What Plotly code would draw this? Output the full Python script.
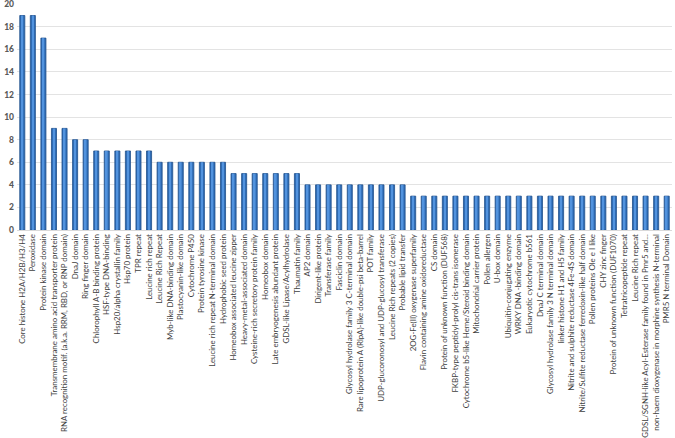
import plotly.graph_objects as go

# --- Datos: dominios proteicos y número de genes ---
dominios = [
    "Core histone H2A/H2B/H3/H4", "Peroxidase", "Protein kinase domain",
    "Transmembrane amino acid transporter protein",
    "RNA recognition motif. (a.k.a. RRM, RBD, or RNP domain)",
    "DnaJ domain", "Ring finger domain", "Chlorophyll A-B binding protein",
    "HSF-type DNA-binding", "Hsp20/alpha crystallin family", "Hsp70 protein",
    "TPR repeat", "Leucine rich repeat", "Leucine Rich Repeat",
    "Myb-like DNA-binding domain", "Plastocyanin-like domain", "Cytochrome P450",
    "Protein tyrosine kinase", "Leucine rich repeat N-terminal domain",
    "Hydrophobic seed protein", "Homeobox associated leucine zipper",
    "Heavy-metal-associated domain", "Cysteine-rich secretory protein family",
    "Homeobox domain", "Late embryogenesis abundant protein",
    "GDSL-like Lipase/Acylhydrolase", "Thaumatin family", "AP2 domain",
    "Dirigent-like protein", "Transferase family", "Fasciclin domain",
    "Glycosyl hydrolase family 3 C-terminal domain",
    "Rare lipoprotein A (RlpA)-like double-psi beta-barrel", "POT family",
    "UDP-glucoronosyl and UDP-glucosyl transferase",
    "Leucine Rich repeats (2 copies)", "Probable lipid transfer",
    "2OG-Fe(II) oxygenase superfamily", "Flavin containing amine oxidoreductase",
    "CS domain", "Protein of unknown function (DUF568)",
    "FKBP-type peptidyl-prolyl cis-trans isomerase",
    "Cytochrome b5-like Heme/Steroid binding domain",
    "Mitochondrial carrier protein", "Pollen allergen", "U-box domain",
    "Ubiquitin-conjugating enzyme", "WRKY DNA -binding domain",
    "Eukaryotic cytochrome b561", "DnaJ C terminal domain",
    "Glycosyl hydrolase family 3 N terminal domain",
    "linker histone H1 and H5 family",
    "Nitrite and sulphite reductase 4Fe-4S domain",
    "Nitrite/Sulfite reductase ferredoxin-like half domain",
    "Pollen proteins Ole e I like", "CHY zinc finger",
    "Protein of unknown function (DUF1070)", "Tetratricopeptide repeat",
    "Leucine Rich repeat",
    "GDSL/SGNH-like Acyl-Esterase family found in Pmr5 and...",
    "non-haem dioxygenase in morphine synthesis N-terminal",
    "PMR5 N terminal Domain",
]
conteos = [
    19, 19, 17,
    9, 9,
    8, 8,
    7, 7, 7, 7, 7, 7,
    6, 6, 6, 6, 6, 6, 6,
    5, 5, 5, 5, 5, 5, 5,
    4, 4, 4, 4, 4, 4, 4, 4, 4, 4,
    3, 3, 3, 3, 3, 3, 3, 3, 3, 3, 3, 3, 3,
    3, 3, 3, 3, 3, 3, 3, 3, 3, 3, 3, 3,
]
y_ticks = [0, 2, 4, 6, 8, 10, 12, 14, 16, 18, 20]

n = len(dominios)
x_pos = list(range(n))

fig = go.Figure()
# barra principal (borde oscuro)
fig.add_trace(go.Bar(
    x=x_pos, y=conteos, width=0.48,
    marker=dict(color="#2f6cb5", line=dict(color="#1f4f8a", width=0.8)),
    hoverinfo="skip",
))
# brillo central, estilo Excel
fig.add_trace(go.Bar(
    x=x_pos, y=conteos, width=0.16,
    marker=dict(color="#5293de", line=dict(width=0)),
    customdata=dominios,
    hovertemplate="%{customdata}: %{y}<extra></extra>",
))

fig.update_layout(
    width=675, height=438,
    margin=dict(l=17, r=3, t=4, b=208),
    barmode="overlay",
    showlegend=False,
    plot_bgcolor="white", paper_bgcolor="white",
    font=dict(family="Lato", color="#595959"),
)
fig.update_xaxes(
    tickmode="array", tickvals=x_pos, ticktext=dominios,
    tickangle=-90, tickfont=dict(size=7.9, color="#404040"),
    range=[-0.5, n - 0.5], showgrid=False, automargin=False,
    showline=True, linecolor="#d9d9d9", ticks="",
)
fig.update_yaxes(
    range=[0, 20.02], tickvals=y_ticks, automargin=False,
    tickfont=dict(size=8.5, color="#595959", family="Lato Black, Lato"),
    showgrid=True, gridcolor="#e3e3e3", gridwidth=1, zeroline=False,
    ticks="", ticklabelstandoff=2, ticklabeloverflow="allow",
)

# sin margen del body para que la figura ocupe toda la ventana
fig.write_html(
    "out.html",
    config={"displayModeBar": False},
    post_script="document.body.style.margin='0';",
)
